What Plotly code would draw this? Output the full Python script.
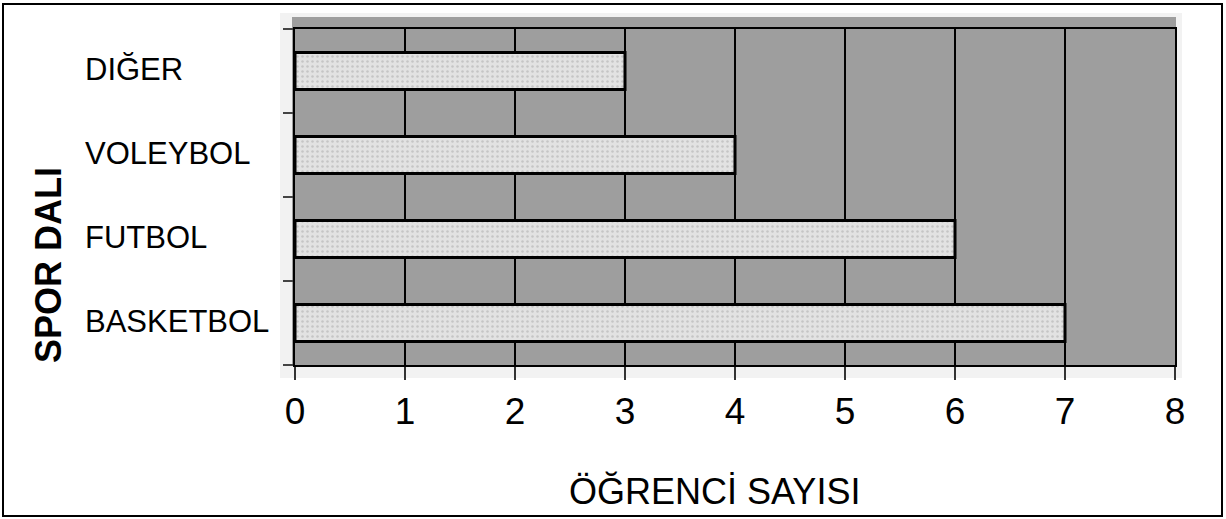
import plotly.graph_objects as go

categories = ["BASKETBOL", "FUTBOL", "VOLEYBOL", "DIĞER"]
students = [7, 6, 4, 3]
x_ticks = [0, 1, 2, 3, 4, 5, 6, 7, 8]
x_title = "ÖĞRENCİ SAYISI"
y_title = "SPOR DALI"

FONT = "Arial, Liberation Sans, Helvetica, sans-serif"
W, H = 1226, 519
L, R, T, B = 295, 51, 29, 154
PW, PH = W - L - R, H - T - B


def px(xp):
    return (xp - L) / PW


def py(yp):
    return (H - B - yp) / PH


fig = go.Figure()
fig.add_trace(go.Bar(
    y=categories, x=students, orientation="h", width=0.44,
    marker=dict(color="#e0e0e0", line=dict(color="black", width=3),
                pattern=dict(shape=".", fgcolor="#a8a8a8", bgcolor="#e2e2e2", size=5, solidity=0.2)),
    hoverinfo="x+y", showlegend=False,
))

shapes = [
    # scan background
    dict(type="rect", xref="paper", yref="paper", x0=px(280), x1=px(1182), y0=py(378), y1=py(13),
         fillcolor="#f2f2f2", line=dict(width=0), layer="below"),
    # gray plot texture area
    dict(type="rect", xref="paper", yref="paper", x0=px(292), x1=px(1176), y0=0, y1=py(17),
         fillcolor="#9e9e9e", line=dict(width=0), layer="below"),
    # outer border
    dict(type="rect", xref="paper", yref="paper", x0=px(3), x1=px(1222), y0=py(516), y1=py(4),
         fillcolor="rgba(0,0,0,0)", line=dict(color="black", width=2), layer="above"),
]

annotations = []
for c in categories:
    annotations.append(dict(x=px(83), xref="paper", y=c, yref="y", text=c, showarrow=False,
                            xanchor="left", yanchor="middle", yshift=2,
                            font=dict(family=FONT, size=31, color="black")))
annotations.append(dict(x=px(48), xref="paper", y=py(265), yref="paper", text=f"<b>{y_title}</b>",
                        showarrow=False, textangle=-90, xanchor="center", yanchor="middle",
                        font=dict(family=FONT, size=36, color="black")))
annotations.append(dict(x=px(714), xref="paper", y=py(491), yref="paper", text=x_title,
                        showarrow=False, xanchor="center", yanchor="middle",
                        font=dict(family=FONT, size=36, color="black")))

fig.update_layout(
    width=W, height=H,
    margin=dict(l=L, r=R, t=T, b=B, pad=0),
    paper_bgcolor="white",
    plot_bgcolor="rgba(0,0,0,0)",
    shapes=shapes,
    annotations=annotations,
    xaxis=dict(range=[0, 8], tickvals=x_ticks, ticktext=[str(v) for v in x_ticks],
               showgrid=True, gridcolor="black", gridwidth=1.5,
               ticks="outside", ticklen=13, tickwidth=1.5, tickcolor="#333",
               showline=True, linecolor="black", linewidth=2, mirror=True,
               zeroline=False, ticklabelstandoff=0,
               tickfont=dict(family=FONT, size=37, color="black")),
    yaxis=dict(type="category", categoryorder="array", categoryarray=categories,
               range=[-0.5, 3.5], tickson="boundaries", ticks="outside", ticklen=10,
               tickwidth=1.5, tickcolor="#444", showticklabels=False, showgrid=False,
               showline=True, linecolor="black", linewidth=2, mirror=True, zeroline=False),
)

fig.write_html("out.html", config={"displayModeBar": False},
               post_script="document.body.style.margin='0';document.body.style.overflow='hidden';")
